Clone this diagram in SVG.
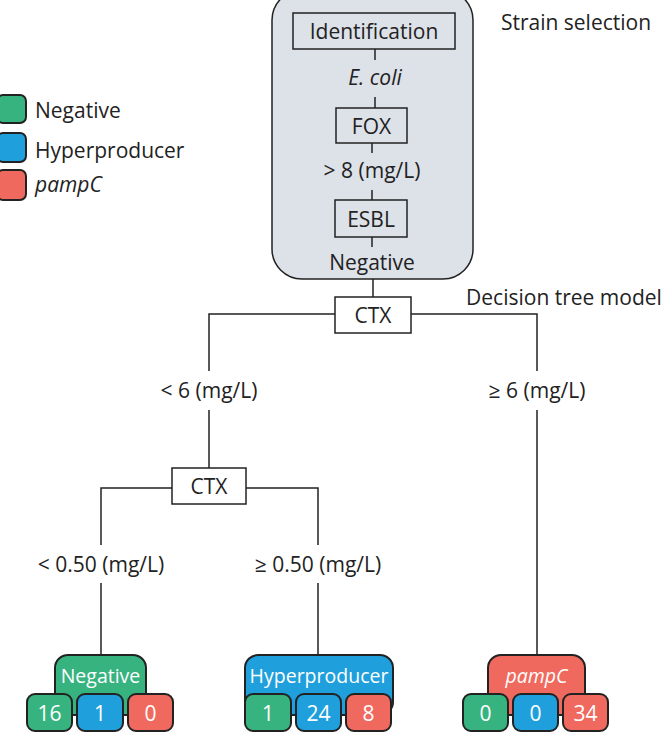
<svg xmlns="http://www.w3.org/2000/svg" width="662" height="733" viewBox="0 0 662 733">
<style>
text{font-family:"Open Sans","Noto Sans","Liberation Sans",sans-serif;font-size:21px;fill:#222;text-anchor:middle;dominant-baseline:central}
.box{fill:none;stroke:#222;stroke-width:1.5}
.wbox{fill:#fff;stroke:#222;stroke-width:1.5}
.ln{fill:none;stroke:#222;stroke-width:1.5}
.g{fill:#37b380;stroke:#222;stroke-width:2}
.b{fill:#1f9fdc;stroke:#222;stroke-width:2}
.r{fill:#f0695e;stroke:#222;stroke-width:2}
.w{fill:#fff}
.lf{font-size:19.5px}
.it{font-style:italic}
.l{text-anchor:start}
</style>
<g id="strain-selection">
<rect x="272" y="-10" width="201" height="289" rx="30" fill="#dde1e8" stroke="#222" stroke-width="1.5"/>
<text x="576" y="22">Strain selection</text>
</g>
<g id="identification"><rect class="box" x="293" y="13" width="162" height="36"/><text x="374" y="31">Identification</text></g>
<g id="ecoli"><text class="it" x="375" y="77">E. coli</text></g>
<g id="fox"><rect class="box" x="336" y="108" width="71" height="35"/><text x="371.5" y="126">FOX</text></g>
<g id="gt8"><text x="372" y="170">&gt; 8 (mg/L)</text></g>
<g id="esbl"><rect class="box" x="335" y="200" width="72" height="37"/><text x="371" y="219">ESBL</text></g>
<g id="negative-label"><text x="372" y="262">Negative</text></g>
<g id="connectors">
<path class="ln" d="M375 49V60M375 97V108M372 143V153M372 190V200M372 237V247M373 279V297"/>
<path class="ln" d="M335 314H209V371M411 314H537V371"/>
<path class="ln" d="M209 410V468M172 488H101V545M246 488H318V545"/>
<path class="ln" d="M101 583V655M318 583V655M537 410V655"/>
</g>
<g id="decision-tree-label"><text x="564" y="297">Decision tree model</text></g>
<g id="ctx1"><rect class="wbox" x="335" y="297" width="76" height="36"/><text x="373" y="315">CTX</text></g>
<g id="lt6"><text x="209" y="390">&lt; 6 (mg/L)</text></g>
<g id="ge6"><text x="537" y="390">≥ 6 (mg/L)</text></g>
<g id="ctx2"><rect class="wbox" x="172" y="468" width="74" height="36"/><text x="209" y="486">CTX</text></g>
<g id="lt050"><text x="101" y="564">&lt; 0.50 (mg/L)</text></g>
<g id="ge050"><text x="318" y="564">≥ 0.50 (mg/L)</text></g>
<g id="leaf-negative">
<rect class="g" x="55" y="655" width="91" height="60" rx="13"/>
<text class="w lf" x="100.5" y="675">Negative</text>
<rect class="g" x="27" y="694" width="45" height="37" rx="8"/><text class="w" x="49.5" y="713">16</text>
<rect class="b" x="77" y="694" width="46" height="37" rx="8"/><text class="w" x="100" y="713">1</text>
<rect class="r" x="128" y="694" width="45" height="37" rx="8"/><text class="w" x="150.5" y="713">0</text>
</g>
<g id="leaf-hyperproducer">
<rect class="b" x="245" y="655" width="148" height="60" rx="13"/>
<text class="w lf" x="319" y="675">Hyperproducer</text>
<rect class="g" x="245" y="694" width="46" height="37" rx="8"/><text class="w" x="268" y="713">1</text>
<rect class="b" x="296" y="694" width="45" height="37" rx="8"/><text class="w" x="318.5" y="713">24</text>
<rect class="r" x="346" y="694" width="45" height="37" rx="8"/><text class="w" x="368.5" y="713">8</text>
</g>
<g id="leaf-pampc">
<rect class="r" x="488" y="655" width="97" height="60" rx="13"/>
<text class="w it lf" x="536.5" y="675">pampC</text>
<rect class="g" x="463" y="694" width="45" height="37" rx="8"/><text class="w" x="485.5" y="713">0</text>
<rect class="b" x="513" y="694" width="45" height="37" rx="8"/><text class="w" x="535.5" y="713">0</text>
<rect class="r" x="563" y="694" width="45" height="37" rx="8"/><text class="w" x="585.5" y="713">34</text>
</g>
<g id="legend">
<rect class="g" x="-3" y="95" width="29" height="28" rx="6"/><text class="l" x="35" y="110">Negative</text>
<rect class="b" x="-3" y="133" width="29" height="29" rx="6"/><text class="l" x="35" y="150">Hyperproducer</text>
<rect class="r" x="-3" y="170" width="29" height="30" rx="6"/><text class="l it" x="35" y="184">pampC</text>
</g>
</svg>
